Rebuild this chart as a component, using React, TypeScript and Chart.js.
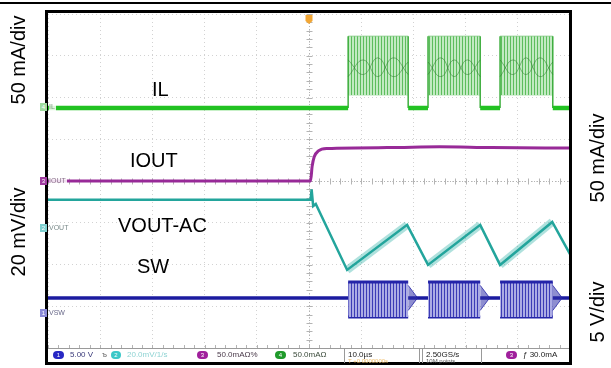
import React, { useEffect, useRef } from "react";
import { Chart, registerables } from "chart.js";

Chart.register(...registerables);

// Horizontal axis: time in µs (10 µs/div); vertical axis: screen divisions (0 = centre line)
const T_MIN = -50;
const T_MAX = 50;
const V_MIN = -4;
const V_MAX = 4;

// switching bursts (µs)
const burstStart = [7.5, 22.8, 36.6];
const burstEnd = [19.0, 32.8, 46.7];

// IL trace (divisions)
const IL_BASE = 1.75;
const IL_TOP = 3.47;
const IL_BOTTOM = 2.06;
const ilEyeA = [
  [[7.5, 2.9], [10.4, 2.55], [13.2, 2.95], [16.1, 2.5], [19.0, 2.85]],
  [[22.8, 2.85], [25.3, 2.5], [27.8, 2.9], [30.3, 2.55], [32.8, 2.9]],
  [[36.6, 2.9], [39.1, 2.55], [41.6, 2.95], [44.2, 2.5], [46.7, 2.85]],
];
const ilEyeB = [
  [[7.5, 2.5], [10.4, 2.9], [13.2, 2.5], [16.1, 2.95], [19.0, 2.55]],
  [[22.8, 2.55], [25.3, 2.95], [27.8, 2.5], [30.3, 2.9], [32.8, 2.5]],
  [[36.6, 2.5], [39.1, 2.9], [41.6, 2.55], [44.2, 2.95], [46.7, 2.55]],
];

// IOUT trace
const ioutT = [-50, 0.3, 0.6, 1.0, 1.8, 3.5, 15, 25, 35, 50];
const ioutV = [0, 0, 0.35, 0.58, 0.72, 0.78, 0.8, 0.82, 0.8, 0.79];

// VOUT-AC trace
const voutT = [-50, 0.3, 0.5, 0.8, 1.3, 7.3, 18.8, 22.8, 32.8, 36.6, 46.6, 50];
const voutV = [-0.45, -0.45, -0.2, -0.6, -0.55, -2.13, -1.05, -2.01, -1.05, -2.01, -0.98, -1.75];
// noisy rising ramps
const voutRampT = [[7.3, 18.8], [22.8, 32.8], [36.6, 46.6]];
const voutRampV = [[-2.13, -1.05], [-2.01, -1.05], [-2.01, -0.98]];

// SW trace
const SW_BASE = -2.8;
const SW_TOP = -2.42;
const SW_BOTTOM = -3.26;
const SW_RING_US = 1.8;
const SW_RING_AMP = 0.3;

type P = { x: number; y: number | null };
const pts = (t: number[], v: number[]): P[] => t.map((x, i) => ({ x, y: v[i] }));

function buildBaseline(base: number): P[] {
  const out: P[] = [{ x: T_MIN, y: base }];
  burstStart.forEach((s, i) => {
    out.push({ x: s, y: base }, { x: s, y: null }, { x: burstEnd[i], y: base });
  });
  out.push({ x: T_MAX, y: base });
  return out;
}

function buildEdges(): P[] {
  const out: P[] = [];
  burstStart.forEach((s, i) => {
    const e = burstEnd[i];
    out.push({ x: s, y: IL_BASE }, { x: s, y: IL_TOP }, { x: s, y: null });
    out.push({ x: e, y: IL_TOP }, { x: e, y: IL_BASE }, { x: e, y: null });
  });
  return out;
}

function App() {
  const ref = useRef<HTMLCanvasElement>(null);

  useEffect(() => {
    const canvas = ref.current!;
    const mkPattern = (bg: string, fg: string, period: number) => {
      const c = document.createElement("canvas");
      c.width = period;
      c.height = 4;
      const g = c.getContext("2d")!;
      g.fillStyle = bg;
      g.fillRect(0, 0, period, 4);
      g.fillStyle = fg;
      g.fillRect(0, 0, 1, 4);
      return canvas.getContext("2d")!.createPattern(c, "repeat")!;
    };
    const ilPat = mkPattern("#c2eac2", "#5dbd5d", 3);
    const swPat = mkPattern("#ababe4", "#3b3bb6", 3);

    const datasets: any[] = [];
    ilEyeA.forEach((seg) =>
      datasets.push({ data: seg.map(([x, y]) => ({ x, y })), borderColor: "rgba(40,120,40,0.5)", borderWidth: 1, tension: 0.45, fill: false })
    );
    ilEyeB.forEach((seg) =>
      datasets.push({ data: seg.map(([x, y]) => ({ x, y })), borderColor: "rgba(40,120,40,0.5)", borderWidth: 1, tension: 0.45, fill: false })
    );
    datasets.push({ data: buildBaseline(IL_BASE), borderColor: "#22c222", borderWidth: 4.5, fill: false });
    datasets.push({ data: buildEdges(), borderColor: "#3eae3e", borderWidth: 1.5, fill: false });
    burstStart.forEach((s, i) => {
      const e = burstEnd[i];
      datasets.push({
        data: [{ x: s, y: IL_TOP }, { x: e, y: IL_TOP }],
        borderColor: "rgba(90,185,90,0.6)",
        borderWidth: 1,
        backgroundColor: ilPat,
        fill: "+1",
      });
      datasets.push({ data: [{ x: s, y: IL_BOTTOM }, { x: e, y: IL_BOTTOM }], borderColor: "rgba(120,200,120,0.6)", borderWidth: 1, fill: false });
    });
    datasets.push({ data: pts(ioutT, ioutV), borderColor: "#982a98", borderWidth: 3, cubicInterpolationMode: "monotone", fill: false });
    datasets.push({ data: pts(voutT, voutV), borderColor: "#23a59c", borderWidth: 2.5, fill: false });
    voutRampT.forEach((tt, i) =>
      datasets.push({ data: pts(tt, voutRampV[i]), borderColor: "rgba(45,175,165,0.38)", borderWidth: 8, fill: false })
    );
    burstEnd.forEach((e) => {
      datasets.push({
        data: [{ x: e, y: SW_BASE + SW_RING_AMP }, { x: e + SW_RING_US, y: SW_BASE }],
        borderColor: "rgba(35,35,166,0.8)",
        borderWidth: 1,
        backgroundColor: "rgba(50,50,170,0.55)",
        fill: "+1",
      });
      datasets.push({
        data: [{ x: e, y: SW_BASE - SW_RING_AMP }, { x: e + SW_RING_US, y: SW_BASE }],
        borderColor: "rgba(35,35,166,0.8)",
        borderWidth: 1,
        fill: false,
      });
    });
    burstStart.forEach((s, i) => {
      const e = burstEnd[i];
      datasets.push({
        data: [{ x: s, y: SW_TOP }, { x: e, y: SW_TOP }],
        borderColor: "#2424a8",
        borderWidth: 3,
        backgroundColor: swPat,
        fill: "+1",
      });
      datasets.push({ data: [{ x: s, y: SW_BOTTOM }, { x: e, y: SW_BOTTOM }], borderColor: "#2424a8", borderWidth: 3, fill: false });
    });
    datasets.push({ data: buildBaseline(SW_BASE), borderColor: "#1b1ba0", borderWidth: 3.5, fill: false });

    const scopePlugin = {
      id: "scope",
      beforeDatasetsDraw(chart: any) {
        const { ctx, chartArea: a, scales } = chart;
        const x = scales.x;
        const y = scales.y;
        const cx = Math.round(x.getPixelForValue(0)) + 0.5;
        const cy = Math.round(y.getPixelForValue(0)) + 0.5;
        ctx.save();
        ctx.strokeStyle = "#b4b4b4";
        ctx.lineWidth = 1;
        ctx.setLineDash([1, 2]);
        ctx.beginPath();
        ctx.moveTo(cx, a.top);
        ctx.lineTo(cx, a.bottom);
        ctx.moveTo(a.left, cy);
        ctx.lineTo(a.right, cy);
        ctx.stroke();
        ctx.setLineDash([]);
        ctx.beginPath();
        for (let t = T_MIN; t <= T_MAX; t += 2) {
          const px = Math.round(x.getPixelForValue(t)) + 0.5;
          ctx.moveTo(px, cy - 3);
          ctx.lineTo(px, cy + 3);
          ctx.moveTo(px, a.bottom - 3);
          ctx.lineTo(px, a.bottom);
        }
        for (let k = 0; k <= 40; k++) {
          const py = Math.round(y.getPixelForValue(V_MIN + k * 0.2)) + 0.5;
          ctx.moveTo(cx - 3, py);
          ctx.lineTo(cx + 3, py);
        }
        ctx.stroke();
        ctx.restore();
      },
      afterDraw(chart: any) {
        const { ctx, chartArea: a, scales } = chart;
        const cx = scales.x.getPixelForValue(0);
        ctx.save();
        // trigger marker
        ctx.fillStyle = "#f2a634";
        ctx.beginPath();
        ctx.moveTo(cx - 3.5, a.top + 1);
        ctx.lineTo(cx + 3.5, a.top + 1);
        ctx.lineTo(cx + 3.5, a.top + 7);
        ctx.lineTo(cx, a.top + 10);
        ctx.lineTo(cx - 3.5, a.top + 7);
        ctx.closePath();
        ctx.fill();
        // status bar separator
        ctx.strokeStyle = "#9a9a9a";
        ctx.lineWidth = 1;
        ctx.beginPath();
        ctx.moveTo(a.left, a.bottom + 0.5);
        ctx.lineTo(a.right, a.bottom + 0.5);
        ctx.stroke();
        // frame
        ctx.strokeStyle = "#000";
        ctx.lineWidth = 3;
        ctx.strokeRect(46.5, 11.5, 524, 352);
        ctx.restore();
      },
    };

    const chart = new Chart(canvas, {
      type: "line",
      data: { datasets },
      options: {
        responsive: false,
        animation: false,
        devicePixelRatio: 1,
        layout: { padding: { left: 48, right: 41, top: 14, bottom: 20 } },
        plugins: { legend: { display: false }, tooltip: { enabled: false } },
        elements: { point: { radius: 0 }, line: { tension: 0 } },
        scales: {
          x: {
            type: "linear",
            min: T_MIN,
            max: T_MAX,
            ticks: { display: false, stepSize: 10 },
            grid: { color: "#d2d2d2", drawTicks: false, lineWidth: 1 },
            border: { display: false, dash: [1, 3] },
          },
          y: {
            type: "linear",
            min: V_MIN,
            max: V_MAX,
            ticks: { display: false, stepSize: 1 },
            grid: { color: "#d2d2d2", drawTicks: false, lineWidth: 1 },
            border: { display: false, dash: [1, 3] },
          },
        },
      } as any,
      plugins: [scopePlugin],
    });
    return () => chart.destroy();
  }, []);

  const big: React.CSSProperties = { position: "absolute", fontSize: 20, lineHeight: "20px", color: "#000", whiteSpace: "nowrap" };
  const rot = (cx: number, cy: number, text: string) => (
    <div
      style={{
        position: "absolute",
        left: cx - 60,
        top: cy - 11,
        width: 120,
        height: 22,
        lineHeight: "22px",
        fontSize: 20,
        textAlign: "center",
        transform: "rotate(-90deg)",
        whiteSpace: "nowrap",
      }}
    >
      {text}
    </div>
  );
  const small: React.CSSProperties = { position: "absolute", fontSize: 8, lineHeight: "9px", whiteSpace: "nowrap", color: "#333" };
  const dot = (x: number, y: number, bg: string, label: string, w = 10) => (
    <div
      style={{
        position: "absolute",
        left: x,
        top: y,
        width: w,
        height: 8,
        borderRadius: 5,
        background: bg,
        color: "#fff",
        fontSize: 6,
        lineHeight: "8px",
        textAlign: "center",
      }}
    >
      {label}
    </div>
  );
  const marker = (x: number, y: number, bg: string, num: string, text: string, color: string) => (
    <>
      <div style={{ position: "absolute", left: x, top: y, width: 7, height: 8, background: bg, color: "#fff", fontSize: 6, lineHeight: "8px", textAlign: "center" }}>{num}</div>
      <div style={{ ...small, left: x + 9, top: y, fontSize: 7, lineHeight: "8px", color, background: "rgba(255,255,255,0.85)", paddingRight: 1 }}>{text}</div>
    </>
  );

  return (
    <div
      style={{
        position: "absolute",
        left: 0,
        top: 0,
        width: 611,
        height: 368,
        background: "#fff",
        overflow: "hidden",
        fontFamily: '"Liberation Sans", Arial, sans-serif',
      }}
    >
      <div style={{ position: "absolute", left: 0, top: 2, width: 611, height: 2, background: "#000" }} />
      <canvas ref={ref} width={611} height={368} style={{ position: "absolute", left: 0, top: 0 }} />

      {rot(18, 60, "50 mA/div")}
      {rot(18, 232, "20 mV/div")}
      {rot(597, 158, "50 mA/div")}
      {rot(597, 312, "5 V/div")}

      <div style={{ ...big, left: 152, top: 79 }}>IL</div>
      <div style={{ ...big, left: 130, top: 150 }}>IOUT</div>
      <div style={{ ...big, left: 118, top: 215 }}>VOUT-AC</div>
      <div style={{ ...big, left: 137, top: 256 }}>SW</div>

      {marker(40, 103, "#9fdc9f", "4", "IL", "#7a9a7a")}
      {marker(40, 177, "#a03ca0", "3", "IOUT", "#8a708a")}
      {marker(40, 224, "#7fd0d0", "2", "VOUT", "#7a8a8a")}
      {marker(40, 309, "#8c8cd8", "1", "VSW", "#6a6a8a")}

      {dot(53, 351, "#2828c4", "1", 11)}
      <div style={{ ...small, left: 70, top: 350, color: "#3a3a7a" }}>5.00 V</div>
      <div style={{ ...small, left: 102, top: 350, color: "#666" }}>ъ</div>
      {dot(111, 351, "#3cc8c8", "2")}
      <div style={{ ...small, left: 127, top: 350, color: "#8fd3d3" }}>20.0mV/1/s</div>
      {dot(197, 351, "#a0209c", "3", 11)}
      <div style={{ ...small, left: 217, top: 350, color: "#4a3a4a" }}>50.0mAΩ%</div>
      {dot(275, 351, "#1f9a2a", "4", 11)}
      <div style={{ ...small, left: 293, top: 350, color: "#3a4a3a" }}>50.0mAΩ</div>
      <div style={{ position: "absolute", left: 344, top: 349, width: 74, height: 14, borderLeft: "1px solid #999", borderRight: "1px solid #999" }} />
      <div style={{ ...small, left: 348, top: 350, color: "#222" }}>10.0µs</div>
      <div style={{ ...small, left: 348, top: 358, fontSize: 6, lineHeight: "7px", color: "#f0c070" }}>T +0.0000000s</div>
      <div style={{ position: "absolute", left: 422, top: 349, width: 58, height: 14, borderLeft: "1px solid #999", borderRight: "1px solid #999" }} />
      <div style={{ ...small, left: 426, top: 350, color: "#222" }}>2.50GS/s</div>
      <div style={{ ...small, left: 426, top: 358, fontSize: 6, lineHeight: "7px", color: "#555" }}>10M points</div>
      {dot(506, 351, "#a0209c", "3", 11)}
      <div style={{ ...small, left: 523, top: 350, color: "#222" }}>ƒ 30.0mA</div>
    </div>
  );
}

export default App;
